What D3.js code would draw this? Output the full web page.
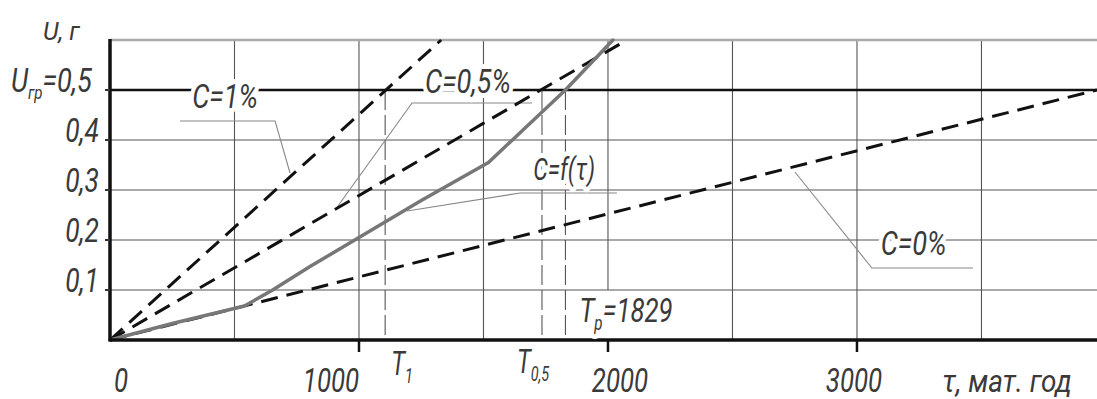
<!DOCTYPE html>
<html><head><meta charset="utf-8">
<script src="https://cdn.jsdelivr.net/npm/d3@7"></script>
<style>
html,body{margin:0;padding:0;background:#fff;}
svg{display:block;}
text{font-family:Roboto,"DejaVu Sans Condensed",sans-serif;font-style:italic;font-weight:400;fill:#3a3a3a;}
</style></head><body>
<svg id="c" width="1097" height="399"></svg>
<script>
// ---- data ----
const xTickValues = [0, 1000, 2000, 3000];
const xTickLabels = ["0", "1000", "2000", "3000"];
const yTickValues = [0.1, 0.2, 0.3, 0.4];
const yTickLabels = ["0,1", "0,2", "0,3", "0,4"];
const xGrid = [500, 1000, 1500, 2000, 2500, 3000, 3500];
const xGridBottom = [0, 0, 0, 0.1, 0, 0, 0];
const yGrid = [0.1, 0.2, 0.3, 0.4];
const uLimit = 0.5;
const uTop = 0.6;
const tauMax = 3964;
// dashed lines: [tau, U] endpoints
const line1 = [[0, 0], [1330, 0.6]];        // C=1%
const line05 = [[0, 0], [2076, 0.6]];       // C=0.5%
const line0 = [[0, 0], [3964, 0.5]];        // C=0%
const lineF = [[0, 0], [250, 0.033], [540, 0.068], [650, 0.099], [800, 0.146], [1000, 0.205], [1250, 0.279], [1520, 0.355], [1829, 0.5], [2020, 0.6]]; // C=f(τ)
const markT = [1105, 1735, 1829];           // T1, T0.5, Tp
// leader lines in data units
const leader1 = [[281, 0.438], [663, 0.438], [723, 0.334]];
const leader05 = [[1695, 0.474], [1213, 0.474], [904, 0.26]];
const leaderF = [[2036, 0.294], [1647, 0.294], [1193, 0.258]];
const leader0 = [[2751, 0.336], [3060, 0.144], [3466, 0.144]];

// ---- layout ----
const svg = d3.select("#c");
const x = d3.scaleLinear().domain([0, tauMax]).range([110, 1097]);
const y = d3.scaleLinear().domain([0, uTop]).range([340, 40]);
const ln = d3.line().x(d => x(d[0])).y(d => y(d[1]));

// gridlines
svg.append("g").selectAll("line").data(xGrid).join("line")
  .attr("x1", d => x(d)).attr("x2", d => x(d))
  .attr("y1", y(uTop)).attr("y2", (d, i) => y(xGridBottom[i]))
  .attr("stroke", "#555").attr("stroke-width", 1.1);
svg.append("g").selectAll("line").data(yGrid).join("line")
  .attr("x1", x(0)).attr("x2", x(tauMax))
  .attr("y1", d => y(d)).attr("y2", d => y(d))
  .attr("stroke", "#555").attr("stroke-width", 1.1);
svg.append("line").attr("x1", x(0)).attr("x2", x(tauMax))
  .attr("y1", y(uTop)).attr("y2", y(uTop))
  .attr("stroke", "#aaa").attr("stroke-width", 2.5);

// U limit line
svg.append("line").attr("x1", x(0)).attr("x2", x(tauMax))
  .attr("y1", y(uLimit)).attr("y2", y(uLimit))
  .attr("stroke", "#111").attr("stroke-width", 2.6);

// T marker verticals (dashed thin)
svg.append("g").selectAll("line").data(markT).join("line")
  .attr("x1", d => x(d)).attr("x2", d => x(d))
  .attr("y1", y(uLimit)).attr("y2", y(0))
  .attr("stroke", "#444").attr("stroke-width", 1)
  .attr("stroke-dasharray", "20,5");

// leader lines
[leader1, leader05, leaderF, leader0].forEach(l => {
  svg.append("path").attr("d", ln(l)).attr("fill", "none")
    .attr("stroke", "#888").attr("stroke-width", 1.1);
});

// dashed C lines
[line1, line05, line0].forEach(l => {
  svg.append("path").attr("d", ln(l)).attr("fill", "none")
    .attr("stroke", "#111").attr("stroke-width", 3)
    .attr("stroke-dasharray", "17,9");
});
// C = f(τ)
svg.append("path").attr("d", ln(lineF)).attr("fill", "none")
  .attr("stroke", "#777").attr("stroke-width", 3.5).attr("stroke-linejoin", "round")
  .attr("stroke-linecap", "round");

// axes
svg.append("line").attr("x1", x(0)).attr("x2", x(tauMax))
  .attr("y1", y(0)).attr("y2", y(0)).attr("stroke", "#111").attr("stroke-width", 3.5);
svg.append("line").attr("x1", x(0)).attr("x2", x(0))
  .attr("y1", y(uTop) - 1).attr("y2", y(0) + 1.5).attr("stroke", "#111").attr("stroke-width", 3.5);

// x ticks
svg.append("g").selectAll("line").data(xTickValues.filter(v => v > 0)).join("line")
  .attr("x1", d => x(d)).attr("x2", d => x(d))
  .attr("y1", y(0)).attr("y2", y(0) + 12)
  .attr("stroke", "#111").attr("stroke-width", 2.5);
// y ticks
svg.append("g").selectAll("line").data(yTickValues.concat([uLimit])).join("line")
  .attr("x1", x(0) - 5).attr("x2", x(0))
  .attr("y1", d => y(d)).attr("y2", d => y(d))
  .attr("stroke", "#333").attr("stroke-width", 2);

// narrow text helper
function txt(px, py, size, sx, anchor) {
  return svg.append("text")
    .attr("transform", `translate(${px},${py}) scale(${sx},1)`)
    .attr("font-size", size).attr("text-anchor", anchor || "start");
}
function halo(t) {
  t.attr("stroke", "#fff").attr("stroke-width", 10).attr("paint-order", "stroke").attr("stroke-linejoin", "round");
  return t;
}

const xLabelDx = [11, -28, 12, -3];
xTickValues.forEach((v, i) => {
  txt(x(v) + xLabelDx[i], 392, 34, 0.76, "middle").text(xTickLabels[i]);
});
yTickValues.forEach((v, i) => {
  txt(99, y(v) + 2, 33, 0.8, "end").text(yTickLabels[i]);
});

// U, г
txt(43, 40, 26, 0.95).text("U, г");
// U_гр = 0,5
let t = txt(11, y(uLimit) + 2, 34, 0.8);
t.append("tspan").text("U");
t.append("tspan").attr("font-size", 19).attr("dy", 7).text("гр");
t.append("tspan").attr("dy", -7).text("=0,5");

// curve labels
halo(txt(x(330), y(0.464), 34, 0.8)).text("C=1%");
halo(txt(x(1265), y(0.5) + 3, 34, 0.8)).text("C=0,5%");
halo(txt(x(1700), y(0.32), 32, 0.72)).text("C=f(τ)");
halo(txt(x(3095), y(0.17), 34, 0.8)).text("C=0%");

// T labels
t = halo(txt(x(markT[0]) + 6, 375, 33, 0.72));
t.append("tspan").text("T");
t.append("tspan").attr("font-size", 20).attr("dy", 8).text("1");
t = halo(txt(x(markT[1]) - 25, 373, 33, 0.72));
t.append("tspan").text("T");
t.append("tspan").attr("font-size", 20).attr("dy", 8).text("0,5");
t = halo(txt(x(markT[2]) + 14, 322, 34, 0.76));
t.append("tspan").text("T");
t.append("tspan").attr("font-size", 20).attr("dy", 8).text("р");
t.append("tspan").attr("dy", -8).text("=1829");

// axis title
txt(942, 392, 31, 0.9).text("τ, мат. год");
</script>
</body></html>
